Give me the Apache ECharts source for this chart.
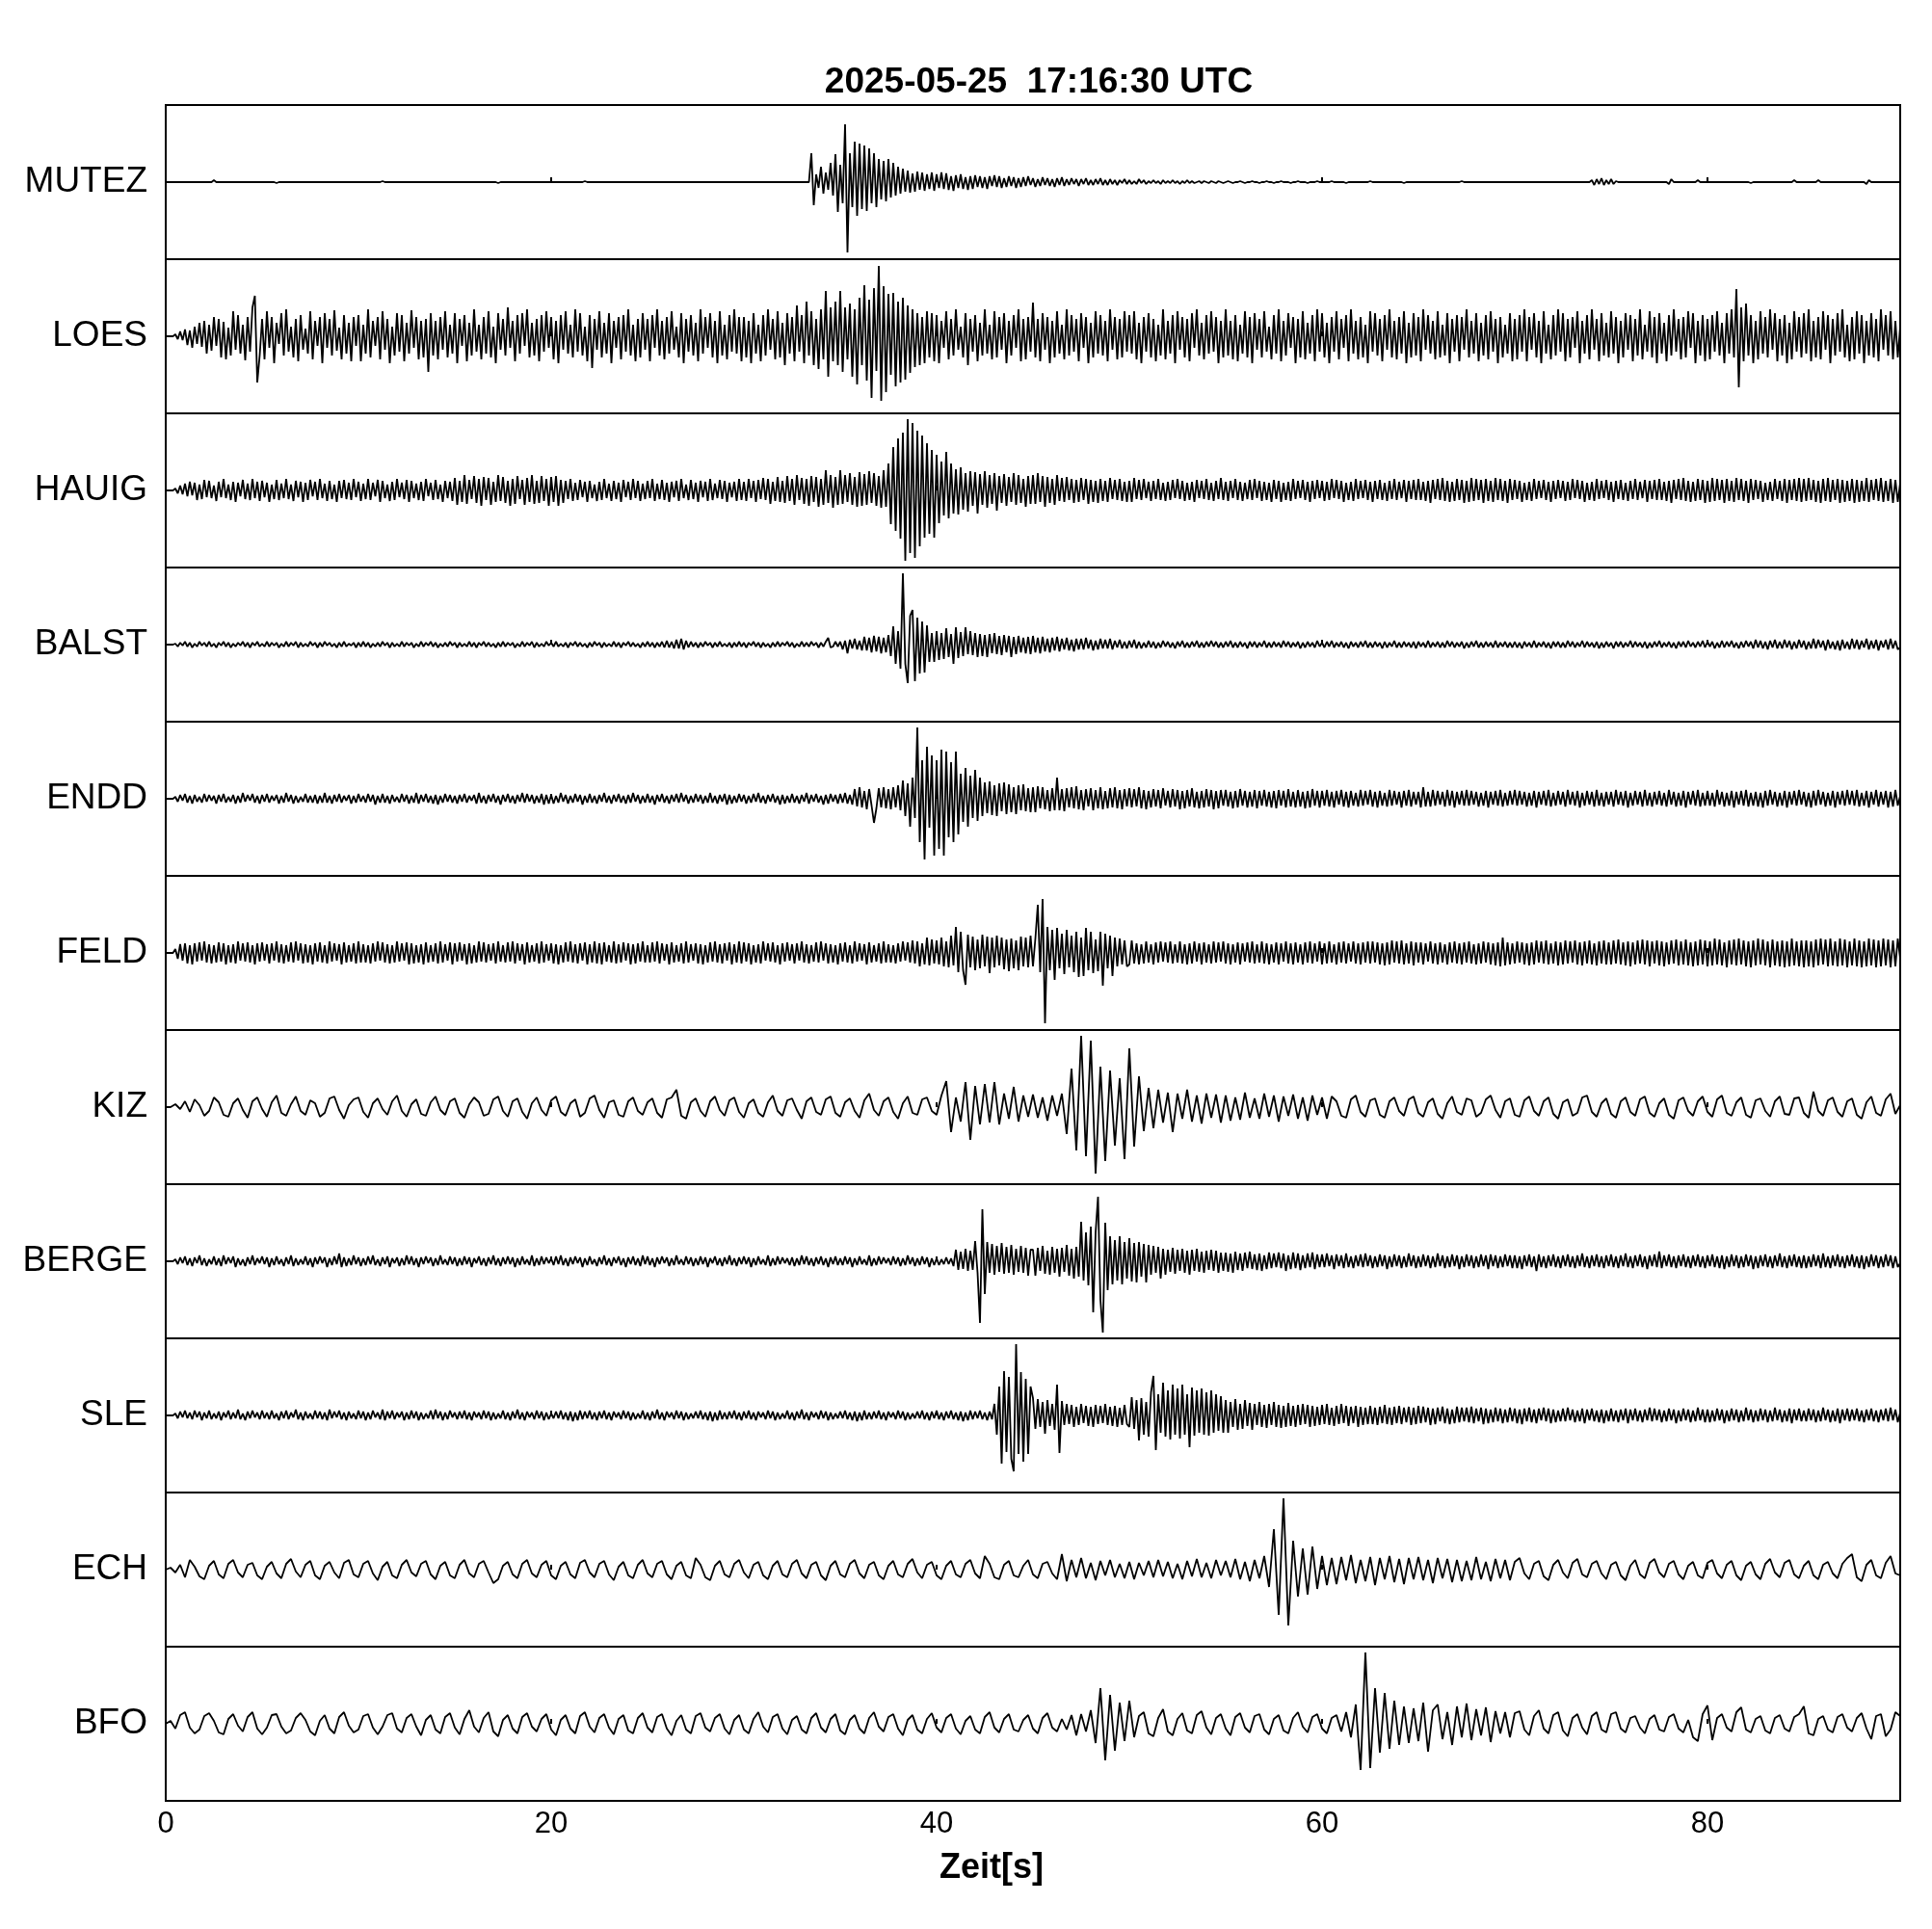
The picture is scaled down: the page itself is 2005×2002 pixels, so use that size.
<!DOCTYPE html>
<html>
<head>
<meta charset="utf-8">
<script src="https://cdn.jsdelivr.net/npm/echarts@6/dist/echarts.min.js"></script>
<style>html,body{margin:0;padding:0;background:#fff;}#chart{width:2005px;height:2002px;}</style>
</head>
<body>
<div id="chart"></div>
<script>
const titleText = '2025-05-25  17:16:30 UTC';
const xAxisName = 'Zeit[s]';
const xTickLabels = [0, 20, 40, 60, 80];
const timeMin = 0, timeMax = 90;
const stations = ['MUTEZ','LOES','HAUIG','BALST','ENDD','FELD','KIZ','BERGE','SLE','ECH','BFO'];
// seconds between samples, per station
const sampleIntervals = [0.125, 0.125, 0.125, 0.125, 0.125, 0.125, 0.25, 0.125, 0.125, 0.25, 0.25];

const mutez = [
0,0,0,0,0,0,0,0,0,0,0,0,0,0,0,0,0,0,0,0,2,0,0,0,0,0,0,0,0,0,0,0,0,0,0,0,0,0,0,0,
0,0,0,0,0,0,-1,0,0,0,0,0,0,0,0,0,0,0,0,0,0,0,0,0,0,0,0,0,0,0,0,0,0,0,0,0,0,0,0,0,
0,0,0,0,0,0,0,0,0,0,1,0,0,0,0,0,0,0,0,0,0,0,0,0,0,0,0,0,0,0,0,0,0,0,0,0,0,0,0,0,
0,0,0,0,0,0,0,0,0,0,0,0,0,0,0,0,0,0,-1,0,0,0,0,0,0,0,0,0,0,0,0,0,0,0,0,0,0,0,0,0,
0,0,0,0,0,0,0,0,0,0,0,0,0,0,1,0,0,0,0,0,0,0,0,0,0,0,0,0,0,0,0,0,0,0,0,0,0,0,0,0,
0,0,0,0,0,0,0,0,0,0,0,0,0,0,0,0,0,0,0,0,0,0,0,0,0,0,0,0,0,0,0,0,0,0,0,0,0,0,0,0,
0,0,0,0,0,0,0,0,0,0,0,0,0,0,0,0,0,0,0,0,0,0,0,0,0,0,0,0,30,-24,8,-6,16,-12,10,-8,20,-14,29,-31,
18,-22,60,-73,30,-26,42,-35,40,-28,38,-30,35,-22,30,-26,24,-18,22,-20,24,-16,20,-14,16,-12,14,-10,12,-11,9,-10,11,-8,10,-9,8,-7,10,-9,
8,-6,10,-7,9,-8,6,-9,7,-6,8,-7,5,-8,6,-7,7,-5,6,-6,5,-7,6,-4,7,-5,6,-6,4,-5,6,-4,5,-6,4,-5,5,-4,6,-3,
4,-5,3,-4,5,-3,4,-4,3,-5,4,-3,5,-4,3,-3,4,-2,3,-4,3,-2,4,-3,2,-3,3,-2,4,-3,2,-3,3,-2,2,-3,2,-1,3,-2,
2,-2,1,-2,3,-1,2,-2,1,-1,2,-1,1,-2,2,-1,1,-1,2,-1,1,-2,1,-1,2,-1,1,-1,0,1,-1,1,0,-1,1,0,-1,1,0,-1,
0,1,0,-1,0,0,1,0,-1,0,0,1,0,0,-1,0,0,1,0,0,-1,0,0,1,0,0,0,-1,0,0,1,0,0,0,-1,0,0,0,1,0,
0,0,0,0,1,0,0,0,0,0,-1,0,0,0,0,0,0,0,0,0,1,0,0,0,0,0,0,0,0,0,0,0,0,0,-1,0,0,0,0,0,
0,0,0,0,0,0,0,0,0,0,0,0,0,0,0,0,0,0,1,0,0,0,0,0,0,0,0,0,0,0,0,0,0,0,0,0,0,0,0,0,
0,0,0,0,0,0,0,0,0,0,0,0,0,0,0,0,0,0,0,0,0,0,0,0,0,0,0,0,0,0,0,0,2,-3,3,-2,4,-3,2,-2,
3,-2,1,0,0,0,0,0,0,0,0,0,0,0,0,0,0,0,0,0,0,0,0,0,-2,3,0,0,0,0,0,0,0,0,0,0,2,0,0,0,
0,0,0,0,0,0,0,0,0,0,0,0,0,0,0,0,0,0,-1,0,0,0,0,0,0,0,0,0,0,0,0,0,0,0,0,0,2,0,0,0,
0,0,0,0,0,0,2,0,0,0,0,0,0,0,0,0,0,0,0,0,0,0,0,0,0,0,-2,2,0,0,0,0,0,0,0,0,0,0,0,0,
0];

const loes = [
0,0,0,0,2,-3,5,-4,7,-9,6,-12,10,-8,14,-11,16,-18,12,-15,20,-10,18,-22,15,-24,9,-20,26,-14,22,-18,12,-25,20,-16,30,42,-48,-20,
18,-24,26,-12,20,-28,14,-8,24,-20,28,-16,10,-22,18,-26,22,-14,8,-18,26,-24,16,-10,20,-28,24,-12,18,-20,27,-15,9,-24,22,-18,14,-26,20,-10,
22,-26,12,-18,28,-22,16,-10,20,-24,26,-14,18,-28,10,-20,24,-16,22,-26,14,-18,27,-12,20,-24,16,-22,18,-37,24,-20,16,-24,20,-14,26,-22,12,-18,
24,-28,18,-10,22,-26,14,-20,28,-16,12,-24,20,-18,26,-22,10,-28,24,-14,18,-20,30,-12,16,-26,22,-18,24,-10,28,-22,14,-20,18,-26,22,-16,26,-12,
20,-24,16,-28,22,-14,26,-18,12,-22,28,-16,24,-20,10,-26,22,-33,18,-14,26,-22,14,-18,24,-28,16,-12,20,-24,22,-16,28,-20,12,-26,18,-22,24,-14,
18,-26,22,-12,28,-20,16,-24,20,-18,26,-14,10,-22,24,-28,18,-16,22,-20,14,-26,28,-18,20,-12,24,-22,16,-28,26,-20,12,-24,22,-16,28,-18,20,-26,
20,-22,16,-28,24,-18,12,-26,22,-20,28,-14,18,-24,26,-22,14,-30,24,-18,20,-26,32,-16,22,-28,36,-20,26,-30,18,-34,28,-24,47,-42,30,-26,36,-30,
47,-37,30,-24,34,-42,28,-50,40,-30,53,-46,38,-64,50,-36,73,-67,52,-58,44,-40,45,-52,36,-48,40,-45,32,-38,28,-32,24,-30,20,-28,26,-22,24,-26,
22,-28,16,-12,26,-24,18,-20,28,-14,10,-22,24,-30,18,-16,22,-26,14,-20,28,-18,12,-24,26,-22,20,-14,24,-28,16,-20,22,-12,28,-26,18,-24,20,-16,
35,-22,18,-26,24,-14,20,-28,16,-22,26,-18,12,-24,28,-20,22,-16,18,-26,24,-12,20,-28,14,-22,26,-18,22,-20,16,-26,28,-14,20,-24,18,-22,26,-16,
22,-18,26,-24,14,-28,20,-16,24,-22,18,-26,12,-20,28,-24,16,-18,22,-28,26,-14,20,-22,18,-26,24,-12,28,-20,14,-24,22,-18,26,-16,20,-28,16,-22,
28,-20,16,-24,22,-26,12,-18,26,-22,20,-28,24,-14,18,-22,26,-16,10,-24,22,-18,28,-26,16,-20,24,-12,20,-28,18,-22,26,-24,14,-18,22,-26,28,-16,
24,-22,14,-28,20,-16,26,-24,18,-12,22,-26,28,-18,16,-24,20,-22,12,-28,26,-16,24,-20,18,-26,22,-14,28,-22,16,-24,20,-18,26,-28,14,-22,24,-20,
20,-26,28,-14,22,-18,16,-24,26,-22,12,-20,24,-28,18,-16,22,-26,20,-14,28,-22,16,-18,24,-26,14,-20,22,-24,26,-16,18,-28,20,-22,12,-18,24,-26,
18,-24,22,-16,28,-26,20,-14,24,-22,16,-28,26,-18,12,-24,22,-20,28,-16,24,-26,18,-22,20,-12,26,-28,16,-18,22,-24,28,-14,18,-26,24,-20,14,-22,
26,-18,20,-28,16,-22,24,-14,22,-26,18,-20,28,-24,12,-16,26,-22,20,-28,24,-18,14,-26,22,-20,28,-16,18,-24,20,-22,26,-12,24,-28,16,-20,22,-26,
18,-24,22,-16,26,-20,14,-28,24,-18,28,-22,49,-53,30,-26,34,-20,22,-28,16,-24,26,-18,20,-22,28,-14,24,-26,18,-20,22,-28,14,-24,26,-16,20,-22,
24,-18,28,-26,16,-22,20,-24,26,-14,22,-28,18,-20,24,-16,28,-22,12,-26,20,-24,26,-18,22,-28,16,-20,24,-22,18,-26,28,-14,22,-20,26,-24,16,-22,
10];

const hauig = [
0,0,0,0,2,-3,5,-4,7,-6,9,-5,8,-10,6,-9,11,-7,10,-8,5,-11,9,-7,12,-8,6,-10,9,-12,8,-6,11,-9,7,-10,12,-8,9,-11,
10,-7,8,-12,6,-9,11,-10,7,-8,12,-9,6,-11,10,-7,9,-12,8,-10,11,-6,9,-10,12,-8,7,-11,10,-9,6,-12,10,-8,11,-9,8,-10,12,-7,
9,-11,7,-9,12,-10,8,-6,11,-12,10,-8,6,-11,9,-10,12,-7,8,-9,11,-12,10,-8,7,-10,9,-11,12,-6,8,-10,11,-9,6,-12,10,-8,9,-11,
13,-15,10,-12,16,-14,11,-9,15,-13,12,-16,14,-10,13,-15,9,-12,16,-11,14,-13,10,-16,12,-14,15,-9,11,-15,13,-12,16,-14,10,-13,15,-11,12,-16,
14,-12,15,-16,11,-13,10,-9,12,-11,8,-10,11,-7,9,-12,10,-8,6,-11,9,-10,12,-8,7,-11,10,-9,8,-12,11,-7,9,-10,12,-8,10,-11,7,-9,
10,-8,12,-11,7,-9,11,-10,8,-12,9,-7,10,-11,12,-8,6,-10,11,-9,8,-12,10,-7,9,-11,12,-10,7,-8,11,-9,10,-12,8,-7,9,-11,12,-10,
9,-11,12,-8,10,-12,11,-9,13,-10,12,-14,9,-11,14,-12,10,-13,15,-11,12,-15,16,-10,13,-14,12,-16,15,-12,14,-17,12,-15,21,-13,16,-18,14,-15,
21,-14,16,-12,18,-15,14,-17,19,-16,17,-15,20,-13,18,-16,15,-18,21,-17,28,-35,45,-42,54,-50,60,-73,74,-65,70,-70,62,-58,57,-49,49,-45,42,-49,
37,-34,30,-26,40,-29,28,-24,22,-25,24,-20,18,-22,20,-16,19,-24,17,-15,20,-18,16,-14,18,-21,15,-13,17,-16,14,-12,18,-15,16,-13,12,-17,15,-14,
16,-14,18,-12,15,-17,14,-13,12,-15,16,-11,13,-12,14,-10,12,-13,11,-12,13,-10,12,-14,11,-12,10,-13,12,-11,10,-12,13,-9,11,-10,12,-11,9,-12,
10,-12,13,-9,11,-10,12,-8,9,-11,10,-9,12,-10,8,-11,9,-10,11,-8,12,-9,10,-11,8,-10,9,-12,11,-8,10,-9,12,-10,8,-11,10,-9,13,-10,
9,-11,10,-8,12,-10,9,-11,8,-9,11,-10,12,-8,10,-11,9,-10,8,-12,11,-9,10,-12,8,-10,9,-11,12,-9,10,-8,11,-10,9,-12,10,-9,11,-8,
10,-11,9,-10,12,-8,11,-9,10,-12,8,-10,9,-11,12,-9,10,-8,11,-10,9,-12,10,-9,11,-10,8,-11,10,-9,12,-10,9,-8,11,-12,10,-9,11,-10,
12,-10,9,-11,10,-13,11,-9,12,-10,13,-11,10,-12,9,-11,12,-10,11,-13,10,-12,13,-11,12,-10,11,-13,12,-11,10,-12,13,-10,12,-11,10,-13,12,-10,
11,-9,10,-12,8,-10,9,-11,12,-9,10,-8,11,-10,9,-12,10,-9,11,-8,10,-11,9,-10,12,-8,11,-9,10,-12,8,-10,9,-11,12,-9,10,-8,11,-10,
9,-12,10,-9,11,-10,8,-11,10,-9,12,-10,9,-8,11,-12,10,-9,11,-10,12,-10,9,-11,10,-13,11,-9,12,-10,13,-11,10,-12,9,-11,12,-10,11,-13,
10,-12,13,-11,12,-10,11,-13,12,-11,10,-12,13,-10,12,-11,10,-13,12,-10,11,-9,10,-12,8,-10,9,-11,12,-9,10,-11,12,-13,11,-10,12,-11,13,-12,
12,-11,13,-10,11,-12,10,-13,12,-11,13,-12,11,-10,12,-13,11,-12,10,-11,12,-13,11,-12,10,-11,13,-12,11,-10,12,-11,13,-12,10,-11,12,-13,11,-12,
8];

const balst = [
0,0,0,0,1,-2,2,-1,3,-2,2,-3,1,-2,3,-1,2,-2,3,-2,1,-3,2,-1,3,-2,2,-3,1,-2,2,-1,3,-2,2,-3,2,-1,3,-2,
1,-2,3,-2,2,-1,2,-3,1,-2,3,-2,2,-1,3,-3,2,-2,1,-2,3,-1,2,-3,2,-2,3,-1,2,-2,1,-3,2,-2,3,-2,1,-1,2,-3,
2,-2,3,-2,2,-3,1,-2,2,-2,3,-1,2,-3,2,-2,1,-2,3,-2,2,-1,2,-3,1,-2,3,-2,2,-1,3,-2,2,-3,1,-2,2,-2,3,-1,
2,-3,2,-2,1,-2,3,-2,2,-3,2,-1,3,-2,2,-2,1,-3,2,-2,3,-2,2,-1,2,-3,1,-2,3,-2,2,-1,3,-3,2,-2,1,-2,3,-1,
2,-2,3,-2,1,-2,2,-3,2,-1,3,-2,2,-2,1,-3,2,-2,3,-1,2,-3,2,-2,1,-2,3,-2,2,-3,2,-1,3,-2,2,-2,1,-3,2,-2,
3,-2,2,-3,2,-2,3,-3,4,-3,3,-4,5,-4,6,-5,4,-3,3,-2,2,-3,2,-2,3,-1,2,-3,2,-2,3,-2,1,-2,2,-3,2,-2,3,-2,
2,-3,2,-1,3,-2,2,-3,2,-2,1,-3,2,-2,3,-2,2,-1,3,-2,2,-3,1,-2,3,-2,2,-2,3,-1,2,-3,2,-2,3,7,-3,-2,3,-2,
3,-5,4,-9,5,-4,6,-5,4,-6,8,-6,7,-8,9,-7,8,-9,7,-8,10,-12,19,-20,14,-25,74,-20,-40,30,36,-38,28,-30,24,-29,20,-18,12,-18,
14,-16,12,-15,17,-13,11,-20,18,-14,13,-12,18,-10,14,-11,12,-13,11,-12,10,-13,11,-9,12,-10,9,-11,10,-8,9,-13,8,-10,9,-8,7,-9,8,-10,
9,-8,7,-9,8,-7,6,-8,7,-6,8,-7,6,-5,7,-6,5,-7,6,-5,6,-5,7,-4,5,-6,4,-5,6,-4,5,-4,6,-5,4,-3,5,-4,3,-4,
4,-3,5,-4,3,-4,2,-3,4,-3,3,-4,2,-3,4,-2,3,-3,2,-4,3,-2,4,-3,2,-3,3,-2,4,-3,2,-3,3,-2,4,-2,3,-3,2,-3,
3,-2,4,-3,2,-3,3,-2,2,-4,3,-2,3,-3,2,-2,4,-3,2,-3,3,-2,2,-3,4,-2,3,-3,2,-2,3,-4,2,-3,3,-2,2,-3,4,-2,
2,-3,3,-2,4,-3,2,-2,3,-3,2,-4,3,-2,2,-3,3,-2,4,-3,2,-3,3,-2,2,-4,3,-3,2,-2,4,-3,2,-3,3,-2,2,-3,3,-4,
3,-2,2,-3,4,-3,2,-2,3,-3,2,-3,4,-2,3,-3,2,-2,3,-4,2,-3,3,-2,4,-3,2,-3,3,-2,2,-3,4,-3,2,-2,3,-3,2,-3,
3,-3,2,-4,3,-2,2,-3,4,-3,2,-2,3,-3,2,-4,3,-2,3,-3,2,-3,4,-2,3,-3,2,-2,4,-3,3,-2,2,-3,3,-4,2,-3,3,-2,
2,-4,3,-2,3,-3,2,-2,4,-3,3,-2,2,-3,3,-4,2,-3,3,-2,4,-3,2,-2,3,-3,2,-4,3,-2,3,-3,4,-2,2,-3,3,-2,4,-3,
3,-2,3,-4,2,-3,4,-3,3,-2,4,-3,2,-4,3,-3,4,-2,3,-4,5,-3,4,-4,3,-5,4,-3,5,-4,3,-4,5,-3,4,-5,3,-4,5,-3,
4,-5,3,-4,6,-4,5,-3,4,-6,5,-4,3,-5,4,-6,5,-4,3,-5,6,-4,5,-5,4,-3,6,-5,4,-4,5,-6,4,-3,5,-5,6,-4,4,-5,
-3];

const endd = [
0,0,0,0,2,-3,4,-2,5,-4,3,-5,4,-3,2,-4,5,-3,4,-2,3,-5,4,-3,5,-4,2,-3,4,-5,3,-4,6,-3,4,-2,5,-4,3,-5,
4,-3,5,-4,3,-2,4,-5,3,-4,6,-3,4,-5,3,-4,2,-3,5,-4,3,-4,4,-5,3,-4,6,-4,3,-5,4,-3,5,-4,3,-2,4,-5,3,-4,
5,-3,3,-4,5,-3,4,-6,3,-4,5,-4,3,-5,4,-3,2,-4,5,-3,4,-5,3,-4,6,-5,4,-3,5,-4,3,-5,4,-6,3,-4,5,-3,4,-4,
3,-5,4,-3,5,-4,3,-2,4,-5,6,-4,3,-5,4,-3,5,-4,3,-6,4,-3,5,-4,3,-5,4,-3,6,-4,5,-3,4,-5,3,-4,5,-6,4,-5,
4,-5,3,-4,6,-3,4,-5,3,-4,5,-3,4,-6,3,-4,5,-4,3,-5,4,-3,6,-4,3,-5,4,-3,5,-4,3,-5,4,-4,6,-3,4,-5,3,-4,
5,-4,3,-6,4,-3,5,-4,3,-5,4,-3,5,-4,6,-3,4,-5,3,-4,5,-3,4,-5,3,-4,6,-4,3,-5,4,-3,5,-6,4,-5,3,-4,5,-3,
4,-5,3,-4,5,-3,6,-4,3,-5,4,-3,5,-4,3,-6,4,-5,3,-4,5,-4,3,-5,4,-3,6,-5,4,-3,5,-4,3,-6,4,-5,5,-3,4,-5,
5,-4,6,-5,4,-6,10,-8,12,-9,8,-11,10,-7,-25,-10,11,-9,12,-10,10,-11,12,-9,14,-12,19,-18,16,-29,22,-20,74,-45,40,-63,54,-30,45,-59,
40,-52,51,-59,49,-40,38,-45,49,-37,26,-24,32,-29,24,-20,30,-23,22,-18,17,-15,18,-17,14,-18,16,-13,17,-16,15,-14,12,-16,14,-12,15,-13,11,-14,
12,-14,13,-10,12,-11,9,-13,11,-12,22,-12,10,-13,11,-9,12,-10,13,-11,9,-12,10,-8,11,-12,9,-10,12,-11,8,-10,11,-9,12,-10,9,-11,10,-8,
11,-9,10,-8,12,-10,9,-11,8,-9,10,-8,9,-10,11,-7,8,-9,10,-8,9,-11,8,-10,9,-8,11,-9,7,-10,8,-9,10,-8,9,-11,8,-10,9,-7,
9,-8,7,-10,8,-9,10,-7,8,-9,7,-8,9,-10,8,-7,9,-8,7,-9,8,-10,9,-7,8,-9,10,-8,7,-9,9,-8,7,-10,8,-9,10,-7,8,-9,
8,-7,9,-8,7,-9,8,-6,9,-8,7,-9,8,-7,6,-8,9,-7,8,-6,9,-8,7,-9,8,-7,6,-8,9,-7,8,-6,7,-9,8,-7,9,-8,7,-6,
7,-9,12,-8,7,-8,9,-7,8,-6,7,-8,9,-7,8,-9,7,-6,8,-7,9,-7,8,-6,7,-8,6,-7,8,-9,7,-6,8,-7,9,-8,6,-7,8,-6,
9,-7,8,-6,7,-8,6,-7,8,-9,7,-6,8,-7,9,-8,6,-7,8,-6,7,-8,9,-6,7,-7,8,-9,6,-7,8,-6,7,-8,9,-7,6,-8,7,-6,
7,-8,9,-6,7,-7,8,-9,6,-7,8,-6,7,-8,9,-7,6,-8,7,-6,8,-7,6,-8,9,-6,7,-8,6,-7,8,-9,7,-6,8,-7,9,-8,6,-7,
8,-7,6,-8,9,-6,7,-8,6,-7,8,-9,7,-6,8,-7,9,-8,6,-7,7,-8,6,-9,8,-7,9,-6,7,-8,6,-7,8,-9,7,-6,8,-7,9,-6,
7,-8,6,-9,8,-7,9,-6,7,-8,6,-7,8,-9,7,-6,8,-7,9,-6,8,-7,9,-8,6,-7,8,-9,7,-6,9,-8,7,-6,8,-9,7,-8,9,-7,
3];

const feld = [
0,0,0,0,4,-6,9,-8,10,-11,8,-12,10,-9,11,-8,12,-10,9,-11,8,-10,11,-9,10,-12,8,-10,9,-11,12,-8,10,-9,11,-10,8,-12,10,-9,
11,-8,9,-11,10,-8,12,-10,9,-11,8,-9,11,-10,12,-8,10,-11,9,-10,8,-12,10,-9,11,-10,8,-11,12,-9,10,-8,9,-12,11,-10,8,-9,10,-11,
12,-10,9,-10,8,-11,10,-9,12,-8,11,-10,9,-11,8,-10,12,-9,10,-8,11,-12,10,-11,8,-10,9,-12,11,-10,8,-9,10,-11,12,-10,9,-8,11,-12,
10,-9,11,-8,9,-12,10,-11,8,-10,12,-9,11,-10,9,-8,10,-11,12,-9,8,-10,11,-9,12,-11,10,-8,9,-12,11,-10,8,-9,10,-11,12,-10,9,-8,
10,-11,9,-12,8,-10,11,-9,12,-10,9,-11,10,-8,11,-12,9,-10,12,-11,10,-12,11,-9,8,-10,12,-11,9,-10,11,-8,10,-12,9,-11,10,-9,12,-10,
8,-10,11,-9,12,-11,10,-8,9,-12,11,-10,8,-9,10,-11,12,-10,9,-8,10,-11,9,-12,8,-10,11,-9,12,-10,9,-11,10,-8,11,-12,9,-10,12,-11,
11,-9,10,-12,8,-10,9,-11,12,-8,10,-9,11,-10,8,-12,10,-9,11,-8,9,-11,10,-8,12,-10,9,-11,8,-9,11,-10,12,-8,10,-11,9,-10,8,-12,
10,-9,11,-10,8,-11,12,-9,10,-8,9,-12,11,-10,8,-9,10,-11,12,-10,9,-10,8,-11,10,-9,12,-8,11,-10,13,-11,12,-14,10,-12,16,-13,14,-11,
13,-12,16,-14,12,-15,18,-13,27,-20,22,-18,-33,19,-15,17,-18,14,-16,19,-14,17,-21,16,-15,18,-13,16,-17,14,-19,15,-16,13,-18,17,-14,16,-15,18,
-14,15,50,-20,56,-73,27,-18,24,-28,26,-16,20,-22,24,-15,18,-20,22,-25,16,-24,26,-18,22,-21,14,-19,22,-34,20,-16,18,-24,16,-14,15,-12,13,-14,
-12,13,-11,10,-12,9,-11,12,-10,9,-12,11,-10,12,-9,11,-10,12,-11,9,-10,12,-11,9,-12,10,-11,12,-9,10,-12,11,-10,9,-11,12,-10,11,-9,12,
-11,10,-12,9,-10,11,-12,10,-9,11,-10,12,-11,9,-10,12,-11,10,-12,9,-10,11,-12,10,-9,12,-11,10,-12,11,-10,9,-12,11,-10,12,-11,10,-9,12,
-12,10,-11,12,-10,9,-12,11,-10,12,-11,10,-9,12,-11,10,-12,11,-10,12,-11,12,-10,11,-12,10,-13,11,-12,13,-10,12,-11,13,-12,10,-11,12,-13,11,
-10,11,-12,10,-9,12,-11,10,-12,11,-10,9,-12,11,-10,12,-11,10,-12,11,-10,12,-11,9,-12,10,-11,12,-10,11,-12,10,-13,11,-14,16,-13,11,-12,10,
-11,12,-10,11,-12,10,-13,11,-12,13,-10,12,-11,13,-12,10,-11,12,-13,11,-12,13,-11,12,-10,13,-12,11,-13,12,-11,13,-12,10,-13,12,-11,13,-12,11,
-12,13,-11,14,-12,11,-13,12,-14,11,-12,13,-11,14,-12,13,-14,12,-11,13,-13,12,-14,11,-12,13,-11,14,-13,12,-12,14,-13,11,-14,12,-13,14,-12,13,
-14,12,-13,15,-12,14,-13,11,-15,13,-12,14,-13,15,-12,13,-14,12,-15,13,-13,15,-12,14,-13,12,-15,14,-13,12,-14,13,-15,12,-14,15,-13,12,-14,13,
-15,13,-14,12,-15,14,-13,15,-12,14,-14,15,-13,12,-14,15,-13,14,-15,12,-13,15,-14,13,-15,12,-14,15,-13,14,-15,13,-14,15,-13,14,-15,13,-14,15,
-6];

const kiz = [
0,0,3,-2,6,-5,8,2,-9,-4,10,5,-8,-10,4,9,-3,-11,6,10,
-2,-10,5,12,-6,-9,3,11,-4,-8,7,4,-10,-6,9,11,-3,-12,2,8,
10,-5,-11,4,9,-2,-8,6,12,-4,-10,3,8,-7,-9,5,11,-3,-8,6,
9,-6,-11,3,10,5,-9,-7,8,11,-4,-10,6,9,-5,-12,4,10,-3,-9,
7,11,-5,-9,4,8,-10,-6,9,12,-3,-11,5,7,-8,-10,6,10,-4,-8,
5,9,-6,-11,8,10,18,-9,-12,5,9,-4,-10,6,11,-3,-9,7,10,-5,
-11,4,8,-6,-10,5,12,-4,-9,7,9,-3,-12,6,10,-5,-8,8,11,-6,
-10,5,9,-4,-11,7,14,-3,-9,6,10,-5,-12,4,11,-6,-8,8,10,-4,
-8,12,27,-26,10,-15,26,-34,22,-18,24,-16,26,-18,14,-12,21,-15,12,-10,
13,-11,10,-14,12,-9,14,-28,40,-45,74,-51,69,-69,42,-56,38,-40,30,-54,
61,-41,32,-25,20,-22,18,-16,15,-26,14,-12,18,-15,12,-17,14,-11,13,-16,
12,-14,10,-13,15,-11,9,-12,14,-10,12,-15,11,-9,13,-12,10,-14,12,-8,
10,-12,11,6,-9,-11,8,12,-5,-10,7,9,-8,-11,6,10,-4,-9,8,11,
-6,-10,5,9,-7,-12,4,11,-5,-8,9,7,-10,-6,8,12,-3,-11,6,9,
-8,-10,7,11,-4,-9,6,10,-7,-12,5,8,-9,-6,10,12,-5,-10,4,9,
-7,-11,6,10,-5,-9,8,11,-6,-10,4,9,-8,-12,7,10,-4,-9,6,11,
-5,-10,8,12,-6,-9,5,10,-8,-11,7,9,-4,-10,6,11,-7,-8,9,10,
-6,-11,16,-4,-9,7,10,-5,-10,6,9,-8,-12,5,11,-6,-9,8,14,-7,
2];

const berge = [
0,0,0,0,2,-3,4,-2,5,-4,3,-5,4,-2,6,-4,3,-5,2,-3,5,-4,3,-5,6,-3,4,-2,5,-6,3,-4,2,-5,4,-3,6,-4,3,-2,
5,-3,4,-6,3,-4,5,-3,2,-5,4,-3,6,-5,3,-4,2,-3,5,-4,3,-6,4,-3,5,-2,4,-6,3,-4,5,-3,8,-6,4,-5,3,-4,6,-3,
4,-5,3,-4,5,-3,6,-4,2,-5,4,-3,5,-6,3,-2,4,-5,3,-4,6,-3,5,-4,3,-6,4,-3,5,-2,4,-5,3,-4,6,-3,2,-4,5,-3,
4,-5,3,-4,5,-3,4,-6,3,-2,5,-4,3,-5,4,-3,6,-4,3,-5,4,-3,5,-3,4,-6,3,-4,5,-3,2,-4,6,-5,3,-4,5,-3,4,-2,
3,-4,5,-3,6,-4,3,-5,4,-3,5,-2,4,-6,3,-4,5,-3,2,-5,4,-3,6,-4,3,-5,4,-2,5,-4,3,-6,4,-3,5,-4,3,-5,6,-3,
5,-4,3,-6,4,-3,5,-2,4,-5,3,-4,6,-3,2,-4,5,-3,4,-5,3,-4,5,-3,4,-6,3,-2,5,-4,3,-5,4,-3,6,-4,3,-5,4,-3,
5,-3,4,-6,3,-4,5,-3,2,-4,6,-5,3,-4,5,-3,4,-2,3,-4,4,-5,3,-4,6,-3,5,-4,3,-5,4,-3,5,-4,3,-6,4,-3,5,-4,
3,-4,5,-3,4,-6,3,-4,5,-3,2,-4,6,-5,3,-4,5,-3,4,-2,3,-4,5,-3,4,-5,3,-4,6,-3,4,-5,3,-4,5,-3,4,-6,3,-4,
3,-4,2,-3,4,-3,3,-5,12,-9,10,-8,13,-10,11,-9,21,-12,-64,54,-34,20,-12,18,-14,16,-11,19,-13,15,-12,17,-14,13,-11,16,-12,14,-15,12,
12,-15,14,-10,16,-13,11,-14,15,-12,13,-16,14,-11,17,-15,13,-18,15,-16,41,-20,30,-25,36,-53,30,67,-40,-74,40,-30,26,-24,22,-20,26,-24,20,-18,
24,-21,19,-22,20,-16,18,-22,17,-14,16,-12,15,-18,13,-14,12,-11,14,-13,12,-10,13,-12,11,-14,12,-10,13,-11,10,-12,11,-9,12,-10,11,-12,9,-10,
9,-11,8,-12,10,-9,8,-10,9,-7,10,-8,7,-9,8,-10,6,-8,9,-7,8,-6,9,-7,8,-10,6,-8,9,-7,8,-9,6,-7,8,-6,9,-8,7,-6,
7,-6,8,-5,6,-8,7,-5,6,-7,8,-6,5,-7,6,-5,7,-6,8,-5,6,-7,5,-6,7,-5,6,-8,5,-6,7,-5,6,-7,5,-6,8,-5,6,-7,
5,-6,7,-5,6,-7,5,-6,8,-5,6,-7,5,-6,7,-5,6,-8,5,-6,7,-5,6,-7,5,-6,7,-5,6,-8,7,-5,6,-7,5,-6,7,-5,6,-7,
6,-7,5,-8,6,-5,7,-6,5,-10,7,-6,5,-7,6,-5,7,-6,5,-7,6,-5,7,-6,5,-7,6,-5,8,-6,5,-7,6,-5,7,-6,5,-7,6,-5,
7,-6,5,-7,6,-5,8,-6,5,-7,6,-5,7,-6,5,-8,6,-5,7,-6,10,-7,6,-5,7,-6,5,-7,6,-5,7,-6,5,-7,6,-5,7,-6,5,-7,
6,-5,7,-6,5,-7,6,-8,5,-6,7,-5,6,-7,5,-6,7,-5,6,-8,5,-7,6,-5,7,-6,5,-7,6,-5,8,-6,5,-7,6,-5,7,-6,5,-7,
6,-7,5,-6,7,-5,6,-7,8,-6,5,-7,6,-5,7,-6,5,-7,6,-5,7,-6,5,-7,6,-8,5,-6,7,-5,6,-7,5,-6,7,-5,6,-7,5,-6,
-2];

const sle = [
0,0,0,0,2,-3,4,-2,5,-3,3,-4,5,-2,4,-5,3,-3,5,-4,2,-3,4,-5,3,-2,5,-4,3,-3,6,-4,2,-5,4,-3,5,-2,3,-4,
5,-3,3,-4,5,-3,2,-5,4,-3,5,-4,3,-2,6,-4,3,-5,4,-3,2,-4,5,-3,4,-4,3,-5,6,-3,4,-2,5,-4,3,-5,4,-3,2,-4,
5,-3,4,-5,3,-4,5,-2,3,-4,6,-5,4,-3,5,-4,3,-2,4,-5,3,-4,5,-3,4,-5,3,-4,2,-3,5,-4,6,-3,4,-5,3,-4,5,-2,
3,-4,4,-3,5,-4,3,-5,4,-2,3,-4,5,-3,4,-5,3,-4,2,-3,5,-4,3,-5,4,-3,6,-4,3,-5,4,-2,3,-4,5,-3,4,-5,3,-4,
2,-3,4,-3,5,-4,3,-5,4,-6,3,-5,5,-4,4,-3,5,-4,3,-5,4,-3,5,-4,3,-5,4,-2,3,-4,5,-3,4,-5,3,-4,2,-3,5,-4,
3,-5,4,-3,6,-4,3,-5,4,-2,3,-4,5,-3,4,-5,3,-4,2,-3,4,-3,5,-4,3,-5,4,-6,3,-5,5,-4,3,-4,4,-3,5,-4,3,-5,
4,-3,5,-4,3,-5,4,-2,3,-4,5,-3,4,-5,3,-4,2,-3,5,-4,3,-5,4,-3,6,-4,3,-5,4,-2,3,-4,5,-3,4,-5,3,-4,2,-3,
4,-3,5,-4,3,-5,4,-6,3,-5,5,-4,3,-4,4,-3,5,-4,3,-5,4,-2,3,-4,5,-3,4,-5,3,-4,2,-3,4,-3,5,-4,3,-5,4,-3,
5,-4,3,-5,4,-3,5,-4,3,-5,4,-6,3,-5,5,-4,4,-3,5,-4,3,-5,4,-4,12,-20,30,-50,46,-38,40,-45,-58,74,-40,45,-48,38,-40,30,
18,-14,17,-12,14,-19,16,-11,12,-15,32,-39,15,-10,12,-9,11,-12,9,-10,12,-8,10,-11,9,-12,11,-9,10,-8,12,-10,9,-11,10,-12,8,-10,11,-9,
-12,19,-14,16,-26,18,-20,14,-22,24,41,-36,22,-18,34,-22,26,-25,32,-20,28,-24,32,-20,22,-33,29,-21,26,-18,28,-20,24,-21,26,-18,22,-16,20,-18,
16,-18,14,-12,17,-15,12,-14,16,-11,13,-15,12,-10,14,-12,11,-13,12,-10,14,-12,11,-13,10,-12,13,-11,10,-12,11,-10,12,-9,11,-12,10,-11,9,-10,
11,-9,12,-10,8,-11,10,-9,12,-8,10,-11,9,-8,10,-12,9,-10,8,-9,10,-9,8,-10,9,-8,11,-9,8,-10,9,-8,10,-9,8,-7,9,-10,8,-9,
10,-8,9,-7,8,-10,7,-9,8,-6,9,-8,7,-9,6,-8,9,-7,8,-6,8,-7,9,-8,7,-6,8,-9,7,-8,6,-7,8,-6,7,-8,6,-7,8,-6,
7,-8,6,-9,7,-6,8,-7,6,-8,7,-5,8,-6,7,-8,6,-7,5,-6,7,-6,8,-5,6,-7,5,-6,7,-8,6,-5,7,-6,5,-7,6,-8,5,-6,
7,-6,5,-7,6,-5,7,-8,6,-5,7,-6,5,-7,6,-5,8,-6,7,-5,6,-7,5,-6,7,-5,6,-8,5,-6,7,-5,6,-7,5,-6,8,-5,6,-7,
6,-7,5,-6,7,-5,6,-8,5,-6,7,-5,6,-7,5,-6,8,-5,6,-7,5,-6,7,-5,6,-7,5,-6,8,-5,6,-7,5,-6,7,-8,6,-5,7,-6,
5,-6,7,-5,6,-7,5,-6,8,-5,6,-7,5,-6,7,-8,6,-5,7,-6,6,-5,7,-6,5,-7,6,-5,7,-6,5,-7,6,-5,7,-6,8,-5,6,-7,
3];

const ech = [
0,2,-3,5,-8,10,3,-7,-10,4,9,-5,-9,6,10,-3,-8,5,7,-6,
-10,3,8,-4,-9,6,11,-2,-8,5,9,-6,-10,4,8,-3,-9,7,10,-5,
-8,6,9,-4,-11,3,8,-6,-9,5,10,-3,-7,6,9,-5,-10,4,8,-6,
-9,5,10,-4,-8,6,9,-3,-14,-10,4,8,-5,-9,6,10,-4,-8,5,9,
-6,-10,4,8,-5,-9,7,10,-3,-8,6,9,-5,-11,3,8,-6,-9,5,10,
-4,-8,6,9,-5,-10,4,8,-6,-9,12,5,-8,-11,4,9,-5,-8,6,10,
-3,-9,5,8,-6,-10,4,9,-5,-8,6,10,-4,-9,5,8,-6,-11,4,9,
-5,-8,6,10,-4,-9,5,8,-6,-10,4,9,-5,-8,6,11,-3,-9,5,8,
-6,-10,4,9,-5,-8,6,10,-4,-9,14,6,-8,-10,5,9,-6,-8,4,10,
-5,-9,6,8,-4,-10,16,-12,10,-8,12,-9,7,-11,9,-6,10,-8,6,-9,
8,-10,7,-6,9,-8,10,-7,8,-9,6,-10,9,-7,11,-8,7,-9,10,-6,
9,-8,11,-10,8,-12,10,-9,14,-18,42,-47,74,-58,30,-28,22,-26,24,-20,
14,-16,12,-15,13,-11,15,-14,10,-12,13,-16,12,-10,14,-13,11,-15,12,-10,
13,-11,10,-14,12,-9,11,-13,10,-12,9,-11,13,-10,8,-12,11,-9,10,-11,
8,12,-4,-10,6,9,-7,-11,5,10,-3,-9,7,11,-5,-8,6,9,-4,-10,
5,8,-6,-11,4,10,-5,-9,7,11,-3,-8,6,9,-5,-10,4,8,-6,-9,
7,10,-4,-9,5,9,-6,-11,4,8,-5,-10,6,11,-3,-8,7,10,-5,-9,
4,9,-6,-10,5,8,-4,-9,6,12,16,-8,-12,5,10,-6,-9,7,14,-4,
-6];

const bfo = [
0,3,-5,9,12,-4,-10,-6,8,11,3,-9,-11,5,10,-2,-8,7,12,-5,
-11,-4,9,10,-3,-10,-7,6,11,4,-8,-12,3,9,-5,-10,7,12,-2,-9,
-6,8,10,-4,-11,-3,9,11,-5,-9,6,10,-3,-12,4,9,-6,-10,7,11,
-4,-11,5,14,-3,-9,6,12,-8,-13,4,9,-5,-10,7,11,-3,-8,5,10,
-6,-12,4,9,-5,-10,8,12,-3,-9,6,10,-4,-11,5,9,-7,-10,6,11,
-4,-9,7,10,-5,-12,3,9,-6,-10,8,11,-4,-8,6,10,-5,-11,4,9,
-6,-10,5,12,-3,-9,7,10,-5,-11,4,8,-6,-10,6,11,-4,-9,5,10,
-7,-11,4,9,-5,-10,6,12,-3,-8,7,10,-5,-12,4,9,-6,-10,5,11,
-4,-9,6,10,-5,-11,3,8,-6,-10,7,12,-4,-9,5,10,-6,-8,4,9,
-5,-10,6,11,-4,-8,5,-6,9,-12,10,-8,14,-20,37,-38,30,-28,22,-18,
24,-14,8,12,-10,-13,6,15,-8,-12,5,11,-7,-10,9,13,-4,-11,6,10,
-5,-12,7,11,-4,-9,8,10,-6,-11,5,9,-7,-10,6,12,-3,-9,7,10,
-5,-10,6,9,-8,12,-14,20,-48,74,-46,37,-30,32,-26,24,-22,18,-20,16,
-18,22,-29,14,20,-16,12,-22,18,-14,21,-17,15,-12,17,-19,13,-10,12,-14,
11,13,-6,-12,8,14,-5,-10,9,12,-7,-13,6,10,-4,-11,8,12,-6,-9,
10,12,-5,-9,6,8,-4,-10,5,9,-6,-8,7,10,-5,-9,4,-14,-18,10,
19,-17,6,10,-4,-8,12,17,-6,-9,5,8,-7,-10,6,9,-5,-8,7,10,
18,-10,-12,5,8,-6,-9,7,10,-4,-8,6,11,-5,-16,8,10,-13,-6,12,
8];

const traces = [mutez, loes, hauig, balst, endd, feld, kiz, berge, sle, ech, bfo];

const chart = echarts.init(document.getElementById('chart'), null, {renderer: 'canvas'});
const FONT = '"Liberation Sans", Arial, Helvetica, sans-serif';
const panelTop = 109, panelH = 160, n = stations.length;

const grids = [], xAxes = [], yAxes = [], series = [];
stations.forEach((name, i) => {
  const last = i === n - 1;
  grids.push({left: 172, right: 33, top: panelTop + panelH * i, height: panelH,
    show: true, borderColor: '#000', borderWidth: 2, backgroundColor: 'transparent', containLabel: false});
  xAxes.push({
    type: 'value', gridIndex: i, min: timeMin, max: timeMax, interval: 20,
    axisLine: {show: false},
    axisTick: {show: true, inside: true, length: 5, lineStyle: {color: '#000', width: 2}},
    splitLine: {show: false},
    axisLabel: {show: last, showMaxLabel: false, color: '#000', fontSize: 31, fontFamily: FONT, margin: 9,
      formatter: v => xTickLabels.indexOf(v) >= 0 ? String(v) : ''},
    name: last ? xAxisName : '', nameLocation: 'middle', nameGap: 52,
    nameTextStyle: {color: '#000', fontSize: 36, fontWeight: 'bold', fontFamily: FONT, padding: [0, 86, 0, 0]}
  });
  yAxes.push({
    type: 'value', gridIndex: i, min: -80, max: 80, interval: 80,
    axisLine: {show: false}, axisTick: {show: false}, splitLine: {show: false},
    axisLabel: {color: '#000', fontSize: 37, fontFamily: FONT, margin: 19, padding: [5, 0, 0, 0],
      formatter: v => v === 0 ? name : ''}
  });
  const dt = sampleIntervals[i];
  series.push({
    type: 'line', xAxisIndex: i, yAxisIndex: i, showSymbol: false, symbol: 'none',
    lineStyle: {color: '#000', width: 1.8}, animation: false, clip: true,
    data: traces[i].map((v, k) => [k * dt, v])
  });
});

chart.setOption({
  backgroundColor: '#fff',
  animation: false,
  title: {text: titleText, left: 1078, textAlign: 'center', top: 67, padding: 0,
    textStyle: {color: '#000', fontSize: 37, fontWeight: 'bold', fontFamily: FONT}},
  grid: grids, xAxis: xAxes, yAxis: yAxes, series: series
});
</script>
</body>
</html>
